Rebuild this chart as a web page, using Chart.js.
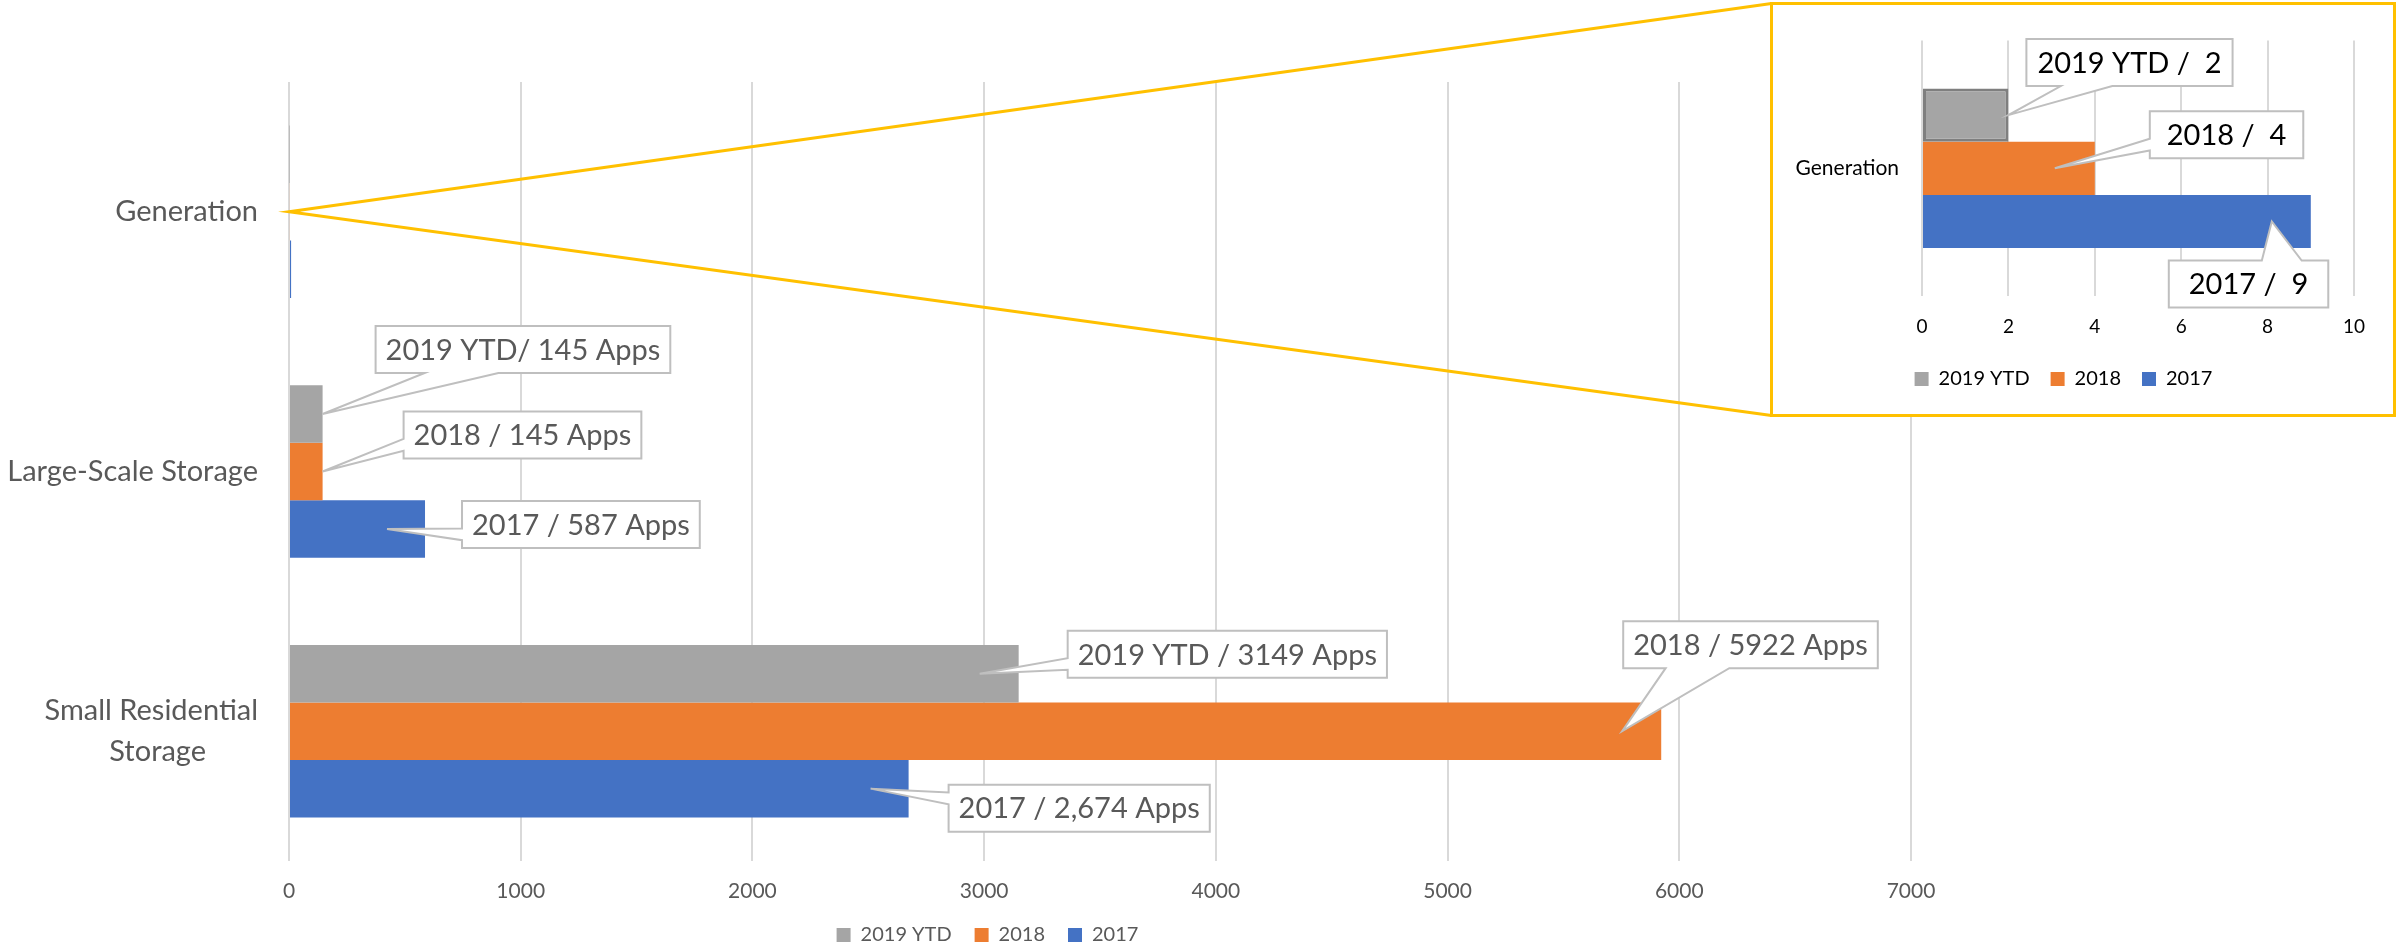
<!DOCTYPE html>
<html>
<head>
<meta charset="utf-8">
<title>Applications by category</title>
<script src="https://cdn.jsdelivr.net/npm/chart.js@4.4.1/dist/chart.umd.min.js"></script>
<style>
  html, body { margin: 0; padding: 0; background: #fff; overflow: hidden; }
  body { width: 2397px; height: 947px; position: relative; }
  #main { position: absolute; left: 0; top: 0; }
  #inset { position: absolute; left: 1770px; top: 2px; width: 626px; height: 415px;
           box-sizing: border-box; border: 3px solid #ffc000; background: #fff; }
  #inset canvas { display: block; }
</style>
</head>
<body>
<canvas id="main" width="1960" height="955"></canvas>
<div id="inset"><canvas id="zoom" width="620" height="409"></canvas></div>
<script>
// ---- data ----
const categories = ['Generation', 'Large-Scale Storage', 'Small Residential Storage'];
const seriesNames = ['2019 YTD', '2018', '2017'];
const apps2019 = [2, 145, 3149];
const apps2018 = [4, 145, 5922];
const apps2017 = [9, 587, 2674];

// callout texts (null = no label on the main chart)
const labels2019 = [null, '2019 YTD/ 145 Apps', '2019 YTD / 3149 Apps'];
const labels2018 = [null, '2018 / 145 Apps', '2018 / 5922 Apps'];
const labels2017 = [null, '2017 / 587 Apps', '2017 / 2,674 Apps'];
const zoomLabels = ['2019 YTD /  2', '2018 /  4', '2017 /  9'];

const mainMax = 7000, mainStep = 1000;
const zoomMax = 10, zoomStep = 2;

// ---- styling ----
const COLORS = ['#a5a5a5', '#ed7d31', '#4472c4'];
const TEXT = '#595959';
const GRID = '#d9d9d9';
const FONT = 'Lato';
Chart.defaults.font.family = FONT;

// where each callout box sits, relative to its pointer tip
const mainPlacement = {
  '0-1': { tipDx: 0,   dx: 53, dy: -88,  padX: 10 },
  '1-1': { tipDx: 0,   dx: 81, dy: -60,  padX: 10 },
  '2-1': { tipDx: -38, dx: 75, dy: -28,  padX: 10 },
  '0-2': { tipDx: -39, dx: 88, dy: -43,  padX: 10 },
  '1-2': { tipDx: -39, dx: 1,  dy: -110, padX: 10 },
  '2-2': { tipDx: -38, dx: 78, dy: -4,   padX: 10 }
};
const zoomPlacement = {
  '0-0': { tipDx: 0,   dx: 18,   dy: -76, padX: 11 },
  '1-0': { tipDx: -40, dx: 95,   dy: -57, padX: 17 },
  '2-0': { tipDx: -39, dx: -103, dy: 39,  padX: 20 }
};

function buildCallouts(textSets, placement) {
  const items = [];
  textSets.forEach((texts, ds) => {
    texts.forEach((text, index) => {
      const p = placement[ds + '-' + index];
      if (text && p) items.push(Object.assign({ ds, index, text }, p));
    });
  });
  return items;
}

// Excel-like rectangular callout with a wedge pointing at (tx, ty)
function calloutPath(ctx, L, T, W, H, tx, ty) {
  const R = L + W, B = T + H;
  const dxPos = tx - (L + W / 2), dyPos = ty - (T + H / 2);
  const vertical = Math.abs(dyPos * W) > Math.abs(dxPos * H);
  const xa = L + W * (dxPos > 0 ? 7 : 2) / 12, xb = L + W * (dxPos > 0 ? 10 : 5) / 12;
  const ya = T + H * (dyPos > 0 ? 7 : 2) / 12, yb = T + H * (dyPos > 0 ? 10 : 5) / 12;
  ctx.beginPath();
  ctx.moveTo(L, T);
  if (vertical && dyPos < 0) { ctx.lineTo(xa, T); ctx.lineTo(tx, ty); ctx.lineTo(xb, T); }
  ctx.lineTo(R, T);
  if (!vertical && dxPos > 0) { ctx.lineTo(R, ya); ctx.lineTo(tx, ty); ctx.lineTo(R, yb); }
  ctx.lineTo(R, B);
  if (vertical && dyPos >= 0) { ctx.lineTo(xb, B); ctx.lineTo(tx, ty); ctx.lineTo(xa, B); }
  ctx.lineTo(L, B);
  if (!vertical && dxPos <= 0) { ctx.lineTo(L, yb); ctx.lineTo(tx, ty); ctx.lineTo(L, ya); }
  ctx.closePath();
}

const calloutPlugin = {
  id: 'callouts',
  afterDatasetsDraw(chart, args, opts) {
    const ctx = chart.ctx;
    ctx.save();
    ctx.font = opts.size + 'px ' + FONT;
    ctx.textBaseline = 'middle';
    ctx.textAlign = 'left';
    opts.items.forEach(item => {
      const bar = chart.getDatasetMeta(item.ds).data[item.index];
      const tx = bar.x + item.tipDx, ty = bar.y;
      const w = ctx.measureText(item.text).width + item.padX * 2;
      const h = opts.boxHeight;
      const L = tx + item.dx, T = ty + item.dy;
      calloutPath(ctx, L, T, w, h, tx, ty);
      ctx.fillStyle = '#fff';
      ctx.fill();
      ctx.lineWidth = 2;
      ctx.strokeStyle = opts.border;
      ctx.stroke();
      ctx.fillStyle = opts.color;
      ctx.fillText(item.text, L + item.padX, T + h / 2 + 1);
    });
    ctx.restore();
  }
};

// yellow lines from the Generation category to the magnified box
const zoomLinesPlugin = {
  id: 'zoomLines',
  afterDraw(chart, args, opts) {
    const box = document.getElementById('inset');
    const x0 = chart.scales.x.getPixelForValue(0);
    const y0 = chart.scales.y.getPixelForValue(opts.index);
    const bx = box.offsetLeft + 1.5;
    const ctx = chart.ctx;
    ctx.save();
    ctx.strokeStyle = '#ffc000';
    ctx.lineWidth = 3;
    ctx.beginPath();
    ctx.moveTo(bx, box.offsetTop + 1.5);
    ctx.lineTo(x0, y0);
    ctx.lineTo(bx, box.offsetTop + box.offsetHeight - 1.5);
    ctx.stroke();
    ctx.restore();
  }
};

// nudge the legend sideways (the original legend is not centred on the canvas)
const legendShiftPlugin = {
  id: 'legendShift',
  afterLayout(chart, args, opts) {
    if (!chart.legend) return;
    chart.legend.left += opts.dx;
    chart.legend.right += opts.dx;
  }
};

// wrap long category names; second line centred under the first
const measureCtx = document.createElement('canvas').getContext('2d');
function wrapLabel(label, size) {
  measureCtx.font = size + 'px ' + FONT;
  if (measureCtx.measureText(label).width <= 300) return label;
  const cut = label.lastIndexOf(' ');
  const first = label.slice(0, cut), second = label.slice(cut + 1);
  const target = (measureCtx.measureText(first).width + measureCtx.measureText(second).width) / 2;
  let padded = second;
  while (measureCtx.measureText(padded + ' ').width <= target) padded += ' ';
  return [first, padded];
}

function datasets(values, withBorder) {
  return seriesNames.map((name, i) => ({
    label: name,
    data: values[i],
    backgroundColor: COLORS[i],
    borderColor: withBorder && i === 0 ? '#7f7f7f' : COLORS[i],
    borderWidth: withBorder && i === 0 ? 3 : 0,
    borderSkipped: false
  }));
}

// legend swatches without the bar outline
function plainLegendItems(chart) {
  return Chart.defaults.plugins.legend.labels.generateLabels(chart).map(item => {
    item.lineWidth = 0;
    item.strokeStyle = item.fillStyle;
    return item;
  });
}

// ---- main chart ----
const PLOT_LEFT = 289;
const PLOT_BOTTOM = 861;
new Chart(document.getElementById('main'), {
  type: 'bar',
  data: {
    labels: categories,
    datasets: datasets([apps2019, apps2018, apps2017], false)
  },
  options: {
    indexAxis: 'y',
    responsive: false,
    animation: false,
    datasets: { bar: { categoryPercentage: 0.664, barPercentage: 1 } },
    layout: { padding: { top: 82, right: 49, left: 0, bottom: 0 } },
    scales: {
      x: {
        min: 0,
        max: mainMax,
        ticks: {
          stepSize: mainStep, color: TEXT, font: { size: 21 }, padding: 18,
          callback: v => String(v)
        },
        grid: { color: GRID, lineWidth: 2, drawTicks: false },
        border: { display: false },
        afterFit(s) { s.height = s.chart.height - PLOT_BOTTOM - s.chart.legend.height; }
      },
      y: {
        ticks: {
          color: TEXT,
          font: { size: 29, lineHeight: 1.4 },
          padding: 31,
          autoSkip: false,
          callback(value) { return wrapLabel(this.getLabelForValue(value), 29); }
        },
        grid: { display: false, drawTicks: false },
        border: { display: false },
        afterFit(s) { s.width = PLOT_LEFT; }
      }
    },
    plugins: {
      legend: {
        position: 'bottom',
        labels: { boxWidth: 14, boxHeight: 14, padding: 23, color: TEXT, font: { size: 20 } }
      },
      legendShift: { dx: 32 },
      tooltip: { enabled: false },
      callouts: {
        size: 29, boxHeight: 47, color: TEXT, border: '#bfbfbf',
        items: buildCallouts([labels2019, labels2018, labels2017], mainPlacement)
      },
      zoomLines: { index: 0 }
    }
  },
  plugins: [calloutPlugin, zoomLinesPlugin, legendShiftPlugin]
});

// ---- magnified Generation chart ----
const ZOOM_BOTTOM = 291;
new Chart(document.getElementById('zoom'), {
  type: 'bar',
  data: {
    labels: [categories[0]],
    datasets: datasets([[apps2019[0]], [apps2018[0]], [apps2017[0]]], true)
  },
  options: {
    indexAxis: 'y',
    responsive: false,
    animation: false,
    datasets: { bar: { categoryPercentage: 0.625, barPercentage: 1 } },
    layout: { padding: { top: 27, right: 39, left: 0, bottom: 15 } },
    scales: {
      x: {
        min: 0,
        max: zoomMax,
        ticks: { stepSize: zoomStep, color: '#000', font: { size: 19 }, padding: 19 },
        grid: { color: GRID, lineWidth: 2, drawTicks: false },
        border: { display: false },
        afterFit(s) { s.height = s.chart.height - ZOOM_BOTTOM - 15 - s.chart.legend.height; }
      },
      y: {
        ticks: { color: '#000', font: { size: 21 }, padding: 23 },
        grid: { display: false, drawTicks: false },
        border: { display: false },
        afterFit(s) { s.width = 149; }
      }
    },
    plugins: {
      legend: {
        position: 'bottom',
        labels: {
          boxWidth: 14, boxHeight: 14, padding: 21, color: '#000', font: { size: 20 },
          generateLabels: plainLegendItems
        }
      },
      tooltip: { enabled: false },
      callouts: {
        size: 29, boxHeight: 47, color: '#000', border: '#bfbfbf',
        items: buildCallouts([[zoomLabels[0]], [zoomLabels[1]], [zoomLabels[2]]], zoomPlacement)
      }
    }
  },
  plugins: [calloutPlugin]
});
</script>
</body>
</html>
